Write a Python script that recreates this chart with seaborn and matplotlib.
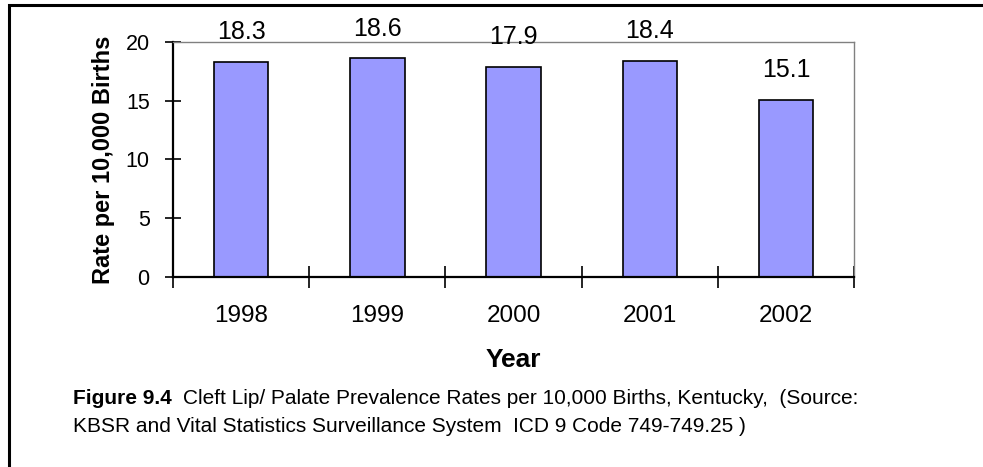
import numpy as np
import pandas as pd
import matplotlib
matplotlib.use("Agg")
import matplotlib.pyplot as plt
import seaborn as sns
from matplotlib.patches import Rectangle

# chart data
years = ["1998", "1999", "2000", "2001", "2002"]
rates = [18.3, 18.6, 17.9, 18.4, 15.1]
y_ticks = [0, 5, 10, 15, 20]

sns.set_style("white")
plt.rcParams['font.family'] = ['Liberation Sans', 'DejaVu Sans']
plt.rcParams['text.color'] = 'black'
plt.rcParams['axes.labelcolor'] = 'black'
plt.rcParams['xtick.color'] = 'black'
plt.rcParams['ytick.color'] = 'black'

df = pd.DataFrame({"year": years, "rate": rates})

fig = plt.figure(figsize=(9.83, 4.67), dpi=100)
ax = fig.add_axes([0.176, 0.407, 0.693, 0.503])

sns.barplot(data=df, x="year", y="rate", color="#9999FF", saturation=1,
            edgecolor="black", linewidth=1.2, width=0.4, ax=ax)

# value labels above the bars
for i, v in enumerate(rates):
    ax.annotate(f"{v}", (i, v), xytext=(0, 21.5), textcoords="offset points",
                ha="center", va="center", fontsize=18, annotation_clip=False)

ax.set_xlim(-0.5, len(years) - 0.5)
ax.set_ylim(0, 20)
ax.set_yticks(y_ticks)
ax.set_xticks(np.arange(-0.5, len(years)), minor=True)
ax.tick_params(axis="x", which="major", length=0, labelsize=17.5, pad=20)
ax.tick_params(axis="x", which="minor", direction="inout", length=16, width=1.2,
               bottom=True, color="black")
ax.tick_params(axis="y", direction="inout", length=11.5, width=1.2, labelsize=15.5,
               left=True, color="black", pad=11)

for s in ["top", "right"]:
    ax.spines[s].set_color("#808080")
    ax.spines[s].set_linewidth(1.0)
for s in ["left", "bottom"]:
    ax.spines[s].set_color("black")
    ax.spines[s].set_linewidth(1.6)

ax.set_xlabel("Year", fontsize=19, fontweight="bold", labelpad=15)
ax.set_ylabel("Rate per 10,000 Births", fontsize=17, fontweight="bold", labelpad=8)

# caption
fig.text(73 / 983, 1 - 398 / 467, "Figure 9.4", fontsize=15, fontweight="bold",
         va="center", ha="left")
fig.text(183 / 983, 1 - 398 / 467,
         "Cleft Lip/ Palate Prevalence Rates per 10,000 Births, Kentucky,  (Source:",
         fontsize=15, va="center", ha="left")
fig.text(73 / 983, 1 - 427 / 467,
         "KBSR and Vital Statistics Surveillance System  ICD 9 Code 749-749.25 )",
         fontsize=15, va="center", ha="left")

# frame around the figure (extends past right and bottom edges)
fig.patches.append(Rectangle((9 / 983, -0.1), 1.2, 1 - 5 / 467 + 0.1,
                             transform=fig.transFigure, fill=False,
                             edgecolor="black", linewidth=2.2))

fig.savefig("out.png", dpi=100)
